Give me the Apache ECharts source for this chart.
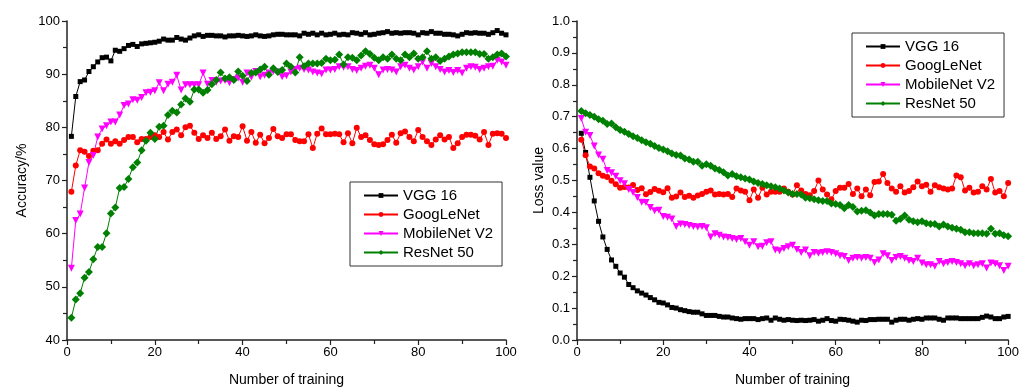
<!DOCTYPE html>
<html>
<head>
<meta charset="utf-8">
<script src="https://cdn.jsdelivr.net/npm/echarts@6/dist/echarts.min.js"></script>
<style>
html,body{margin:0;padding:0;background:#fff;}
#chart{width:1022px;height:392px;}
</style>
</head>
<body>
<div id="chart"></div>
<script>
// x = training number 1..100
const seriesNames = ['VGG 16', 'GoogLeNet', 'MobileNet V2', 'ResNet 50'];

const accVGG = [78.3,85.8,88.6,88.9,90.5,91.4,92.3,93.1,93.2,92.5,
94.5,94.3,94.8,95.4,95.6,95.2,95.7,95.8,95.9,96.0,
96.2,96.6,96.4,96.4,96.9,96.6,96.4,96.8,97.2,97.4,
97.1,97.3,97.3,97.2,97.2,97.0,97.2,97.2,97.3,97.2,
97.1,97.2,97.4,97.2,97.1,97.2,97.4,97.5,97.5,97.4,
97.4,97.4,97.2,97.7,97.5,97.7,97.4,97.7,97.4,97.5,
97.7,97.4,97.5,97.4,97.8,97.7,97.5,97.8,97.4,97.5,
97.7,97.8,98.0,97.7,97.8,97.7,97.8,97.8,97.7,97.4,
97.8,97.7,98.0,97.7,97.7,97.5,97.5,97.4,97.2,97.5,
97.8,97.7,97.8,97.7,97.7,97.5,97.8,98.2,97.7,97.4];

const accGoog = [67.9,72.8,75.7,75.4,74.6,75.6,75.7,76.9,77.7,76.9,
77.4,76.9,77.6,78.2,78.2,77.2,77.8,77.8,78.2,78.5,
78.2,79.1,77.7,79.1,79.6,78.5,80.0,80.3,79.0,77.8,
78.5,78.0,79.0,77.8,78.3,79.6,77.5,78.3,78.2,80.2,
77.5,79.1,77.1,78.6,77.0,78.0,79.7,78.3,78.0,78.7,
78.7,77.6,77.4,77.4,78.7,76.1,78.8,79.8,78.7,78.7,
78.8,78.7,77.2,78.9,77.0,79.9,78.2,78.5,77.6,76.8,
76.7,76.8,77.6,78.6,77.1,78.9,79.2,78.2,77.4,79.5,
78.2,77.4,76.7,77.7,78.5,77.7,78.2,76.1,77.0,78.2,
78.6,78.6,78.4,77.7,79.1,76.7,78.8,78.9,78.8,78.0];

const accMob = [53.5,62.5,63.7,68.6,73.4,74.7,78.2,79.7,80.3,81.0,
81.0,82.3,84.1,84.4,85.2,85.1,85.6,86.5,86.6,86.9,
88.4,86.9,88.1,88.5,89.8,87.0,88.0,88.0,88.0,88.0,
90.2,88.1,88.8,88.5,88.7,88.8,88.4,89.0,89.3,88.5,
90.2,89.4,90.5,89.5,89.8,90.2,90.5,90.4,89.5,89.7,
90.4,90.9,91.1,90.9,90.8,90.4,90.2,90.1,90.8,90.8,
90.9,91.4,91.3,91.4,90.9,90.7,91.1,91.5,91.7,91.1,
89.9,90.8,90.9,90.8,90.4,91.4,91.7,91.1,90.8,91.4,
92.3,91.1,92.0,91.4,90.9,90.4,90.7,90.3,90.7,90.2,
91.1,91.4,91.3,90.9,91.1,91.4,91.5,92.6,92.3,91.7];

const accRes = [44.2,47.6,48.8,51.7,52.8,55.2,57.5,57.5,60.1,63.8,
64.9,68.6,68.8,70.3,72.5,73.4,75.7,77.5,79.0,77.8,
80.1,80.3,82.3,83.1,82.8,84.3,85.4,84.8,87.1,87.1,
86.5,87.0,88.1,88.9,90.3,89.2,89.4,88.9,90.5,89.7,
88.7,90.2,90.3,90.9,91.4,89.9,91.1,90.4,90.8,92.0,
91.4,90.3,93.2,91.5,92.0,92.0,92.0,92.1,92.9,92.6,
92.7,93.7,91.8,93.2,93.1,92.6,93.5,94.3,93.8,93.1,
92.6,93.2,92.9,93.7,92.9,92.6,93.7,93.2,93.9,92.9,
93.2,94.3,92.9,93.2,92.5,92.9,93.3,93.7,93.9,94.1,
94.1,94.1,94.1,93.8,93.8,92.9,93.2,93.7,93.9,93.3];

const lossVGG = [0.648,0.588,0.510,0.436,0.372,0.323,0.284,0.251,0.231,0.210,
0.197,0.174,0.164,0.154,0.147,0.141,0.133,0.126,0.118,0.116,
0.110,0.102,0.100,0.095,0.092,0.089,0.087,0.087,0.082,0.077,
0.077,0.077,0.074,0.072,0.072,0.069,0.067,0.065,0.067,0.067,
0.067,0.064,0.067,0.069,0.062,0.069,0.065,0.062,0.064,0.062,
0.061,0.062,0.061,0.062,0.064,0.059,0.062,0.067,0.061,0.059,
0.065,0.064,0.062,0.059,0.056,0.062,0.061,0.064,0.064,0.065,
0.065,0.065,0.056,0.062,0.065,0.065,0.062,0.065,0.067,0.065,
0.069,0.069,0.069,0.065,0.062,0.069,0.069,0.069,0.067,0.067,
0.067,0.067,0.067,0.071,0.075,0.072,0.067,0.067,0.072,0.074];

const lossGoog = [0.628,0.579,0.544,0.538,0.523,0.515,0.511,0.499,0.488,0.477,
0.480,0.478,0.486,0.470,0.476,0.457,0.464,0.473,0.468,0.463,
0.476,0.446,0.450,0.462,0.448,0.452,0.446,0.453,0.458,0.465,
0.469,0.456,0.458,0.456,0.458,0.448,0.475,0.469,0.465,0.438,
0.472,0.446,0.477,0.456,0.465,0.465,0.465,0.475,0.465,0.456,
0.485,0.469,0.458,0.454,0.467,0.500,0.472,0.456,0.441,0.467,
0.477,0.477,0.489,0.458,0.475,0.451,0.472,0.454,0.495,0.497,
0.520,0.492,0.475,0.465,0.482,0.462,0.467,0.479,0.497,0.482,
0.487,0.465,0.485,0.479,0.475,0.472,0.475,0.516,0.510,0.469,
0.477,0.462,0.465,0.482,0.472,0.505,0.462,0.467,0.451,0.492];

const lossMob = [0.694,0.651,0.641,0.608,0.580,0.567,0.531,0.524,0.513,0.499,
0.490,0.472,0.462,0.447,0.432,0.431,0.415,0.405,0.407,0.387,
0.385,0.379,0.356,0.364,0.362,0.359,0.356,0.354,0.356,0.352,
0.323,0.333,0.328,0.323,0.321,0.318,0.315,0.318,0.308,0.297,
0.308,0.292,0.294,0.305,0.308,0.282,0.280,0.287,0.292,0.297,
0.284,0.274,0.282,0.264,0.274,0.272,0.274,0.277,0.274,0.270,
0.264,0.262,0.249,0.256,0.259,0.256,0.259,0.256,0.243,0.251,
0.270,0.264,0.249,0.259,0.262,0.256,0.249,0.246,0.256,0.241,
0.236,0.236,0.231,0.246,0.239,0.243,0.246,0.243,0.239,0.233,
0.239,0.233,0.236,0.239,0.226,0.241,0.239,0.233,0.218,0.231];

const lossRes = [0.718,0.711,0.705,0.700,0.692,0.687,0.677,0.679,0.667,0.658,
0.653,0.646,0.639,0.633,0.626,0.620,0.615,0.608,0.602,0.597,
0.592,0.585,0.580,0.578,0.569,0.566,0.559,0.559,0.546,0.551,
0.546,0.538,0.533,0.526,0.516,0.520,0.513,0.510,0.506,0.503,
0.497,0.492,0.489,0.485,0.482,0.479,0.475,0.469,0.462,0.458,
0.458,0.456,0.446,0.444,0.441,0.438,0.436,0.436,0.428,0.426,
0.423,0.413,0.423,0.417,0.403,0.405,0.407,0.400,0.390,0.395,
0.395,0.395,0.393,0.374,0.379,0.390,0.377,0.372,0.369,0.372,
0.366,0.364,0.364,0.356,0.362,0.356,0.352,0.349,0.346,0.338,
0.338,0.335,0.335,0.335,0.333,0.349,0.333,0.335,0.328,0.325];

const FONT = '"Liberation Sans", Arial, Helvetica, sans-serif';
const AXIS_COLOR = '#222';

const styles = [
  { color: '#000000', symbol: 'rect', symbolSize: 5, symbolRotate: 0 },
  { color: '#ff0000', symbol: 'circle', symbolSize: 6, symbolRotate: 0 },
  { color: '#ff00ff', symbol: 'triangle', symbolSize: 7, symbolRotate: 180 },
  { color: '#008000', symbol: 'diamond', symbolSize: 8, symbolRotate: 0 }
];

function pairs(arr) { return arr.map((v, i) => [i + 1, v]); }

function makeSeries(arr, idx, axisIdx) {
  const s = styles[idx];
  return {
    type: 'line',
    name: seriesNames[idx],
    xAxisIndex: axisIdx,
    yAxisIndex: axisIdx,
    data: pairs(arr),
    symbol: s.symbol,
    symbolSize: s.symbolSize,
    symbolRotate: s.symbolRotate,
    showAllSymbol: true,
    lineStyle: { color: s.color, width: 1 },
    itemStyle: { color: s.color },
    emphasis: { disabled: true },
    animation: false
  };
}

function xAxis(gridIndex) {
  return {
    type: 'value', gridIndex, min: 0, max: 100, interval: 20,
    name: 'Number of training', nameLocation: 'middle', nameGap: 33,
    nameTextStyle: { fontFamily: FONT, fontSize: 14, color: '#000' },
    axisLine: { show: true, onZero: false, lineStyle: { color: AXIS_COLOR, width: 1.5 } },
    axisTick: { show: true, inside: false, length: 5, lineStyle: { color: AXIS_COLOR, width: 1.2 } },
    minorTick: { show: true, splitNumber: 2, length: 4, lineStyle: { color: AXIS_COLOR, width: 1.2 } },
    axisLabel: { fontFamily: FONT, fontSize: 13, color: '#000', margin: 6 },
    splitLine: { show: false }
  };
}

function yAxis(gridIndex, min, max, interval, name, gap, fmt) {
  return {
    type: 'value', gridIndex, min, max, interval,
    name, nameLocation: 'middle', nameGap: gap, nameRotate: 90,
    nameTextStyle: { fontFamily: FONT, fontSize: 14, color: '#000' },
    axisLine: { show: true, onZero: false, lineStyle: { color: AXIS_COLOR, width: 1.5 } },
    axisTick: { show: true, inside: false, length: 5, lineStyle: { color: AXIS_COLOR, width: 1.2 } },
    minorTick: { show: true, splitNumber: 2, length: 4, lineStyle: { color: AXIS_COLOR, width: 1.2 } },
    axisLabel: { fontFamily: FONT, fontSize: 13, color: '#000', margin: 7, formatter: fmt },
    splitLine: { show: false }
  };
}

function legend(left, top) {
  return {
    orient: 'vertical', left, top,
    data: seriesNames,
    itemWidth: 34, itemHeight: 6, itemGap: 4,
    padding: [6, 9, 6, 13],
    borderColor: '#333', borderWidth: 1,
    textStyle: { fontFamily: FONT, fontSize: 15, color: '#000' },
    lineStyle: { width: 2 },
    selectedMode: false
  };
}

const chart = echarts.init(document.getElementById('chart'), null, { renderer: 'canvas' });
chart.setOption({
  backgroundColor: '#fff',
  animation: false,
  grid: [
    { left: 67, top: 21, width: 439, height: 324 },
    { left: 577, top: 21, width: 435, height: 324 }
  ],
  xAxis: [xAxis(0), xAxis(1)],
  yAxis: [
    yAxis(0, 40, 100, 10, 'Accuracy/%', 38, v => String(v)),
    yAxis(1, 0, 1, 0.1, 'Loss value', 31, v => v.toFixed(1))
  ],
  legend: [legend(350, 182), legend(852, 33)],
  series: [
    makeSeries(accVGG, 0, 0),
    makeSeries(accGoog, 1, 0),
    makeSeries(accMob, 2, 0),
    makeSeries(accRes, 3, 0),
    makeSeries(lossVGG, 0, 1),
    makeSeries(lossGoog, 1, 1),
    makeSeries(lossMob, 2, 1),
    makeSeries(lossRes, 3, 1)
  ]
});
</script>
</body>
</html>
